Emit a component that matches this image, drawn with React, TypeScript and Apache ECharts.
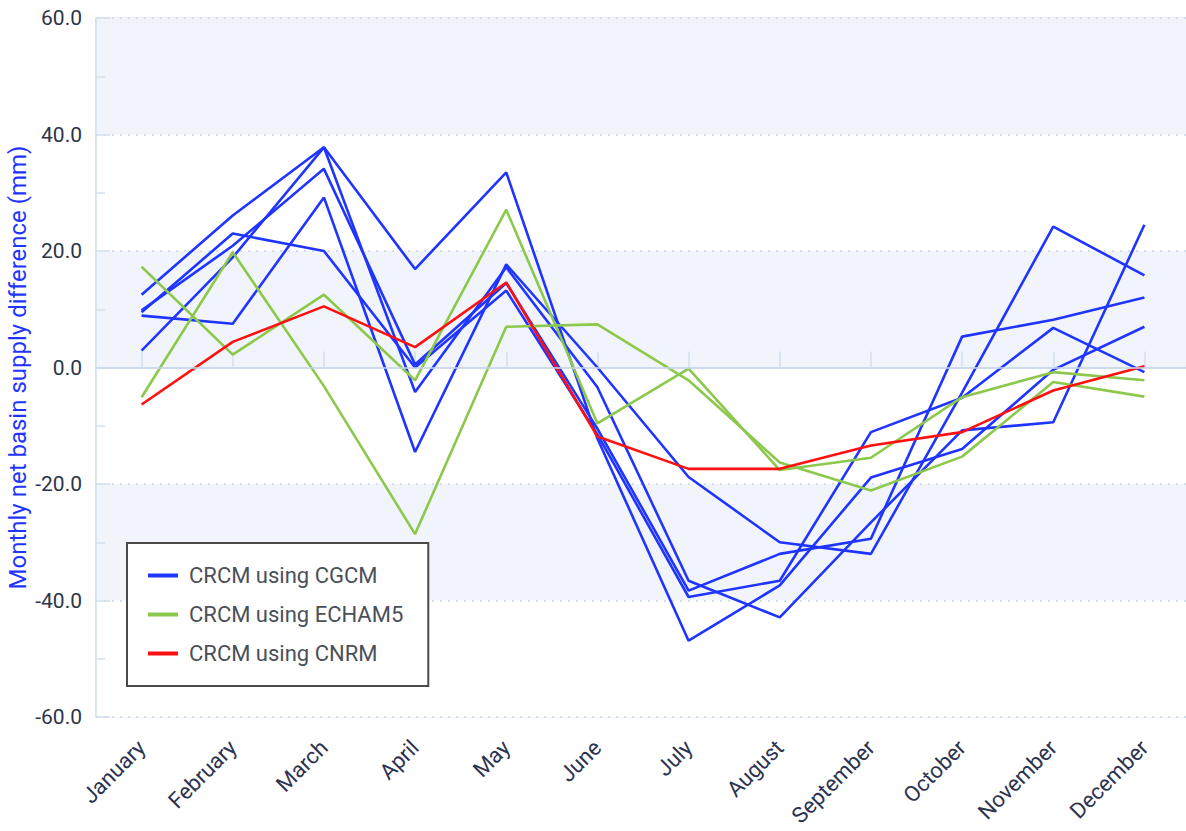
import React, { useEffect, useRef } from "react";
import * as echarts from "echarts";

const months = ["January","February","March","April","May","June","July","August","September","October","November","December"];

const cgcm1 = [12.5, 26.1, 37.8, 16.9, 33.5, -12.2, -46.9, -37.4, -18.9, -14.0, -0.4, 7.0];
const cgcm2 = [9.8, 20.9, 34.1, 0.5, 14.5, -10.5, -38.3, -32.0, -29.4, 5.3, 8.2, 12.0];
const cgcm3 = [9.5, 23.0, 20.0, 0.0, 13.2, -11.5, -39.4, -36.6, -11.1, -5.2, 6.8, -0.8];
const cgcm4 = [8.9, 7.5, 29.2, -14.5, 17.7, 0.0, -18.8, -30.0, -32.0, -4.3, 24.2, 15.8];
const cgcm5 = [2.9, 18.9, 37.8, -4.2, 17.2, -3.4, -36.6, -42.9, -26.6, -10.8, -9.4, 24.5];
const echamA = [17.3, 2.2, 12.5, -2.2, 27.1, -9.6, -0.2, -17.6, -15.5, -5.1, -0.8, -2.2];
const echamB = [-5.1, 19.8, -3.2, -28.6, 7.0, 7.4, -2.2, -16.3, -21.1, -15.3, -2.5, -5.0];
const cnrm = [-6.35, 4.4, 10.5, 3.5, 14.6, -11.85, -17.4, -17.4, -13.4, -11.1, -3.95, 0.2];

const NAME_CGCM = "CRCM using CGCM";
const NAME_ECHAM = "CRCM using ECHAM5";
const NAME_CNRM = "CRCM using CNRM";

const BLUE = "#1f35ff";
const GREEN = "#8cc84b";
const RED = "#ff1010";

const FONT = "Roboto, 'Noto Sans', sans-serif";

export default function App() {
  const ref = useRef<HTMLDivElement>(null);
  useEffect(() => {
    if (!ref.current) return;
    const chart = echarts.init(ref.current, null, { renderer: "svg" });
    const mk = (name: string, data: number[], color: string) => ({
      type: "line",
      name,
      data,
      symbol: "none",
      z: 3,
      color,
      lineStyle: { color, width: 2.6 },
      itemStyle: { color },
    });
    chart.setOption({
      animation: false,
      textStyle: { fontFamily: FONT },
      grid: {
        left: 96, right: -4, top: 18, bottom: 114,
        containLabel: false, outerBoundsMode: "none",
        show: true, borderColor: "#d3dfee", borderWidth: 1, backgroundColor: "transparent",
      },
      legend: {
        orient: "vertical",
        left: 127,
        top: 543,
        data: [NAME_CGCM, NAME_ECHAM, NAME_CNRM].map((n) => ({ name: n, icon: "rect" })),
        itemWidth: 30,
        itemHeight: 4,
        itemGap: 14,
        padding: [20, 25, 20, 21],
        backgroundColor: "#ffffff",
        borderColor: "#4a4a4a",
        borderWidth: 2,
        textStyle: { fontSize: 22, color: "#4b4f58", lineHeight: 25, fontFamily: FONT, padding: [0, 0, 0, 6] },
      },
      xAxis: {
        type: "category",
        data: months,
        boundaryGap: true,
        axisLine: { show: true, lineStyle: { color: "#d3dfee", width: 1.5 } },
        axisTick: { show: true, inside: true, alignWithLabel: true, length: 16, lineStyle: { color: "#d3dfee", width: 1.5 } },
        axisLabel: { rotate: 45, fontSize: 22, color: "#2c3350", margin: 27, fontFamily: FONT },
        splitLine: { show: false },
      },
      yAxis: {
        type: "value",
        min: -60,
        max: 60,
        interval: 20,
        name: "Monthly net basin supply difference (mm)",
        nameLocation: "middle",
        nameGap: 66,
        nameMoveOverlap: false,
        nameTextStyle: { color: "#1f35ff", fontSize: 24, fontFamily: FONT },
        axisLine: { show: true, lineStyle: { color: "#d3dfee", width: 1.5 } },
        axisTick: { show: true, inside: true, length: 14, lineStyle: { color: "#d3dfee", width: 1.5 } },
        minorTick: { show: true, splitNumber: 2, length: 9, lineStyle: { color: "#d3dfee", width: 1.5 } },
        axisLabel: { fontSize: 21, color: "#2c3448", margin: 14, fontFamily: FONT, formatter: (v: number) => v.toFixed(1) },
        splitLine: { show: true, lineStyle: { color: "#c8d6ea", type: [2, 6], width: 1.5 } },
        splitArea: { show: true, areaStyle: { color: ["#ffffff", "#f1f5fb"] } },
      },
      series: [
        {
          type: "line",
          name: "zero",
          data: [],
          z: 1,
          markLine: {
            silent: true,
            symbol: "none",
            label: { show: false },
            lineStyle: { color: "#c9d7ea", type: "solid", width: 1.5 },
            data: [{ yAxis: 0 }],
          },
        },
        mk(NAME_CGCM, cgcm1, BLUE),
        mk(NAME_CGCM, cgcm2, BLUE),
        mk(NAME_CGCM, cgcm3, BLUE),
        mk(NAME_CGCM, cgcm4, BLUE),
        mk(NAME_CGCM, cgcm5, BLUE),
        mk(NAME_ECHAM, echamA, GREEN),
        mk(NAME_ECHAM, echamB, GREEN),
        mk(NAME_CNRM, cnrm, RED),
      ],
    });
    return () => chart.dispose();
  }, []);
  return (
    <div
      ref={ref}
      style={{ position: "absolute", left: 0, top: 0, width: 1186, height: 831, background: "#fff" }}
    />
  );
}
